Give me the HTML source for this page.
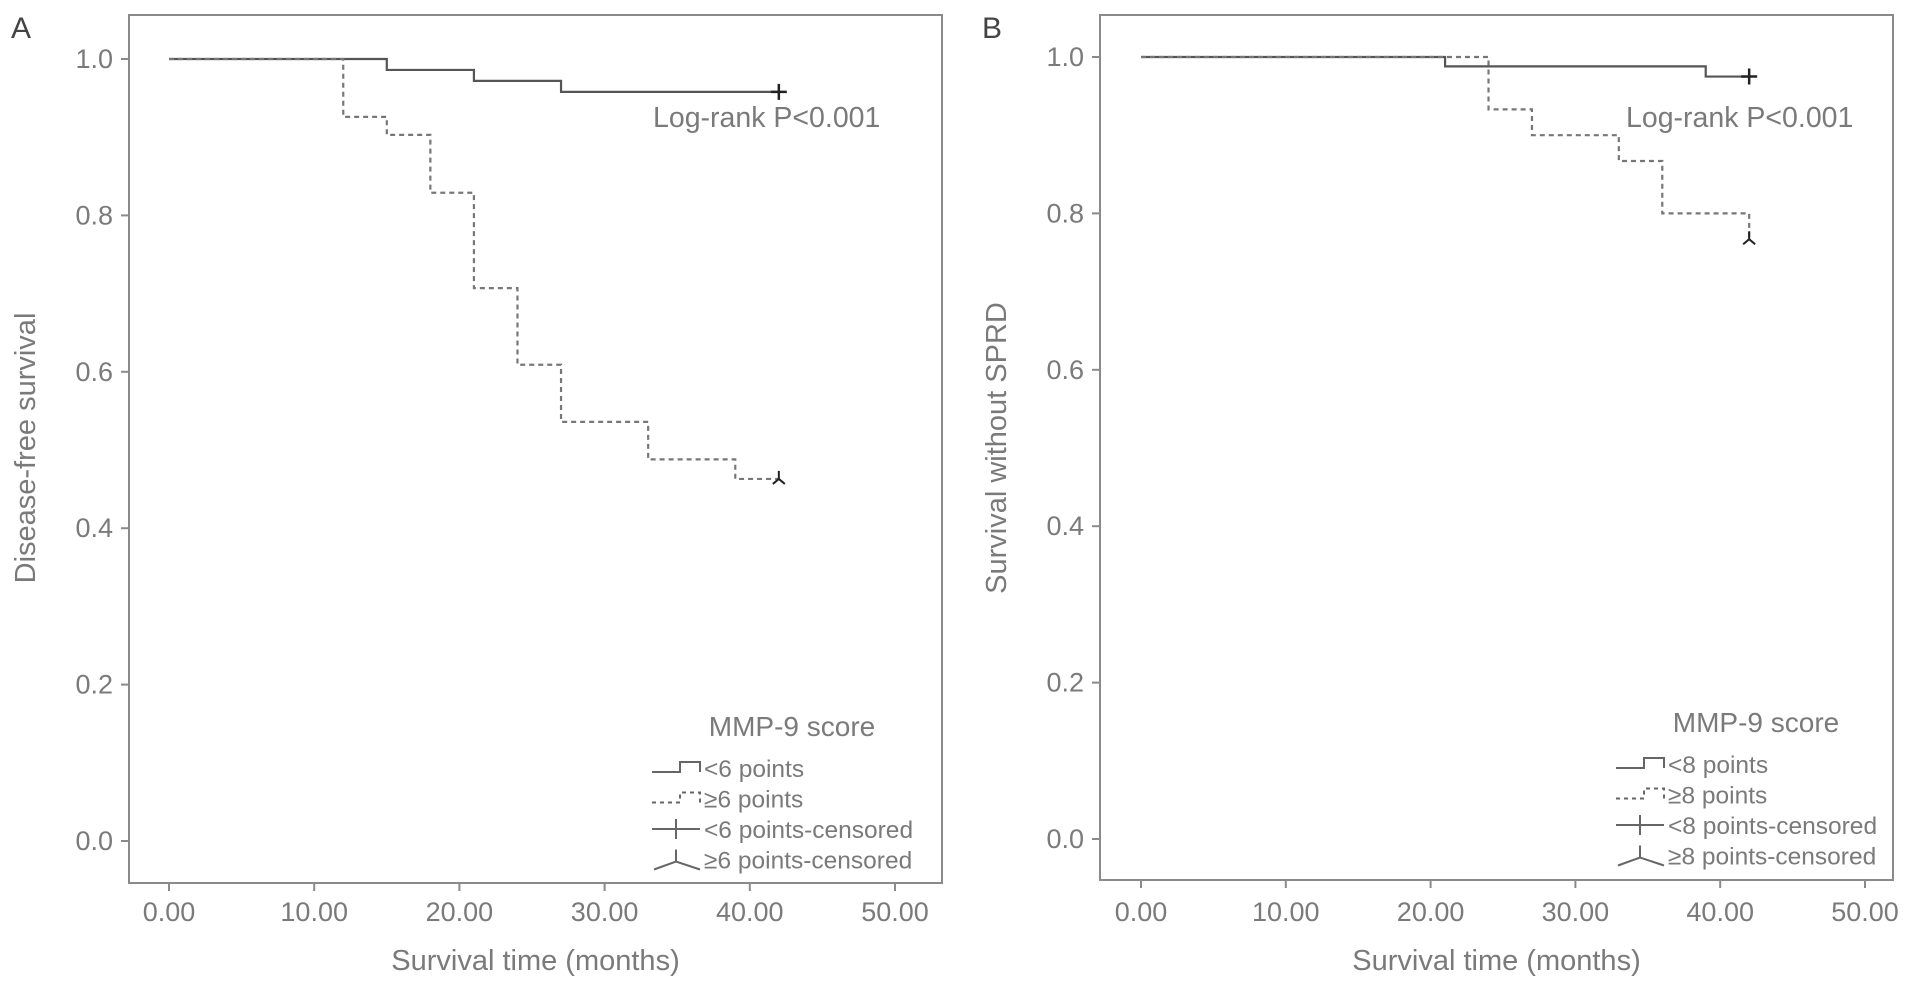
<!DOCTYPE html>
<html><head><meta charset="utf-8"><style>
html,body{margin:0;padding:0;background:#fff}
svg{display:block}
text{font-family:"Liberation Sans",sans-serif;fill:#7a7a7a}
</style></head><body>
<svg id="chart" width="1913" height="993" viewBox="0 0 1913 993" xmlns="http://www.w3.org/2000/svg"></svg>
<script>
// Panel A data
const aSolidTimes = [0, 15, 21, 27, 42];
const aSolidVals = [1.0, 0.986, 0.972, 0.958, 0.958];
const aDashTimes = [0, 12, 15, 18, 21, 24, 27, 33, 39, 42];
const aDashVals = [1.0, 0.926, 0.903, 0.829, 0.707, 0.609, 0.536, 0.488, 0.463, 0.463];
// Panel B data
const bSolidTimes = [0, 21, 39, 42];
const bSolidVals = [1.0, 0.988, 0.975, 0.975];
const bDashTimes = [0, 24, 27, 33, 36, 42];
const bDashVals = [1.0, 0.933, 0.9, 0.867, 0.8, 0.767];
const xTickVals = [0, 10, 20, 30, 40, 50];
const xTickLabels = ["0.00", "10.00", "20.00", "30.00", "40.00", "50.00"];
const yTickVals = [0, 0.2, 0.4, 0.6, 0.8, 1.0];
const yTickLabels = ["0.0", "0.2", "0.4", "0.6", "0.8", "1.0"];

const NS = "http://www.w3.org/2000/svg";
const svg = document.getElementById("chart");
function mk(tag, attrs, parent) {
  const e = document.createElementNS(NS, tag);
  for (const k in attrs) e.setAttribute(k, attrs[k]);
  (parent || svg).appendChild(e);
  return e;
}
function txt(s, attrs, parent) { const t = mk("text", attrs, parent); t.textContent = s; return t; }

function panel(cfg) {
  const g = mk("g", {});
  
  
  const xs = v => cfg.x0 + v * (cfg.x50 - cfg.x0) / 50;
  const ys = v => cfg.y0 - v * (cfg.y0 - cfg.y1);
  const frame = mk("rect", {x: cfg.fl, y: cfg.ft, width: cfg.fr - cfg.fl, height: cfg.fb - cfg.ft, fill: "none", stroke: "#8a8a8a", "stroke-width": 2}, g);
  
  
  const pl = txt(cfg.letter, {x: cfg.fl - 118, y: 38, "font-size": 30, style: "fill:#444"}, g);
  
  
  xTickVals.forEach((v, i) => {
    mk("line", {x1: xs(v), x2: xs(v), y1: cfg.fb, y2: cfg.fb + 8, stroke: "#8a8a8a", "stroke-width": 2}, g);
    const t = txt(xTickLabels[i], {x: xs(v), y: 921, "text-anchor": "middle", "font-size": 27}, g);
    
    
  });
  yTickVals.forEach((v, i) => {
    mk("line", {x1: cfg.fl - 8, x2: cfg.fl, y1: ys(v), y2: ys(v), stroke: "#8a8a8a", "stroke-width": 2}, g);
    const t = txt(yTickLabels[i], {x: cfg.fl - 16, y: ys(v) + 9, "text-anchor": "end", "font-size": 27}, g);
    
    
  });
  const xt = txt("Survival time (months)", {x: (cfg.fl + cfg.fr) / 2, y: 970, "text-anchor": "middle", "font-size": 29}, g);
  
  
  const yt = txt(cfg.ytitle, {x: 0, y: 0, "text-anchor": "middle", "font-size": 29, transform: `translate(${cfg.fl - 94},448) rotate(-90)`}, g);
  
  

  function step(times, vals, dash, name) {
    let d = `M${xs(times[0])},${ys(vals[0])}`;
    for (let i = 1; i < times.length; i++) {
      d += ` H${xs(times[i])} V${ys(vals[i])}`;
    }
    const p = mk("path", {d, fill: "none", stroke: dash ? "#777" : "#555", "stroke-width": 2.2, "stroke-dasharray": dash ? "5,4" : "none"}, g);
    
    
  }
  step(cfg.st, cfg.sv, false, 'low-score-curve');
  step(cfg.dt, cfg.dv, true, 'high-score-curve');
  const cx = xs(cfg.st[cfg.st.length - 1]), cy = ys(cfg.sv[cfg.sv.length - 1]);
  const c1 = mk("path", {d: `M${cx - 8},${cy} H${cx + 8} M${cx},${cy - 8} V${cy + 8}`, stroke: "#222", "stroke-width": 2.5}, g);
  
  
  const dx = xs(cfg.dt[cfg.dt.length - 1]), dy = ys(cfg.dv[cfg.dv.length - 1]);
  const c2 = mk("path", {d: `M${dx},${dy - 8} V${dy} M${dx - 6},${dy + 5} L${dx},${dy} L${dx + 6},${dy + 5}`, fill: "none", stroke: "#222", "stroke-width": 2}, g);
  
  

  const lr = txt("Log-rank P<0.001", {x: cfg.lrx, y: 127, "font-size": 28.5}, g);
  
  

  const lx = cfg.lgx;
  const lt = txt("MMP-9 score", {x: lx + 140, y: cfg.lgy, "text-anchor": "middle", "font-size": 28}, g);
  
  
  cfg.legend.forEach((label, i) => {
    const y = cfg.lgy + 36 + i * 30.5;
    const e = mk("g", {}, g);
    
    
    let d, dash = "none";
    if (i === 0) d = `M${lx},${y} H${lx + 28} V${y - 10} H${lx + 48} V${y}`;
    if (i === 1) { d = `M${lx},${y} H${lx + 28} V${y - 10} H${lx + 48} V${y}`; dash = "4,4"; }
    if (i === 2) d = `M${lx},${y - 4} H${lx + 48} M${lx + 24},${y - 14} V${y + 6}`;
    if (i === 3) d = `M${lx + 2},${y + 6} L${lx + 24},${y - 2} L${lx + 48},${y + 6} M${lx + 24},${y - 2} V${y - 14}`;
    mk("path", {d, fill: "none", stroke: "#666", "stroke-width": 2, "stroke-dasharray": dash}, e);
    txt(label, {x: lx + 52, y: y + 5, "font-size": 24.5}, e);
  });
}

panel({name: "panel-a", letter: "A", fl: 129, ft: 15, fr: 942, fb: 883, x0: 169, x50: 895, y0: 841, y1: 59,
  st: aSolidTimes, sv: aSolidVals, dt: aDashTimes, dv: aDashVals,
  ytitle: "Disease-free survival", lrx: 653, lgx: 652, lgy: 736,
  legend: ["<6 points", "≥6 points", "<6 points-censored", "≥6 points-censored"]});
panel({name: "panel-b", letter: "B", fl: 1100, ft: 15, fr: 1893, fb: 880, x0: 1141, x50: 1865, y0: 839, y1: 57,
  st: bSolidTimes, sv: bSolidVals, dt: bDashTimes, dv: bDashVals,
  ytitle: "Survival without SPRD", lrx: 1626, lgx: 1616, lgy: 732,
  legend: ["<8 points", "≥8 points", "<8 points-censored", "≥8 points-censored"]});
</script>
</body></html>
